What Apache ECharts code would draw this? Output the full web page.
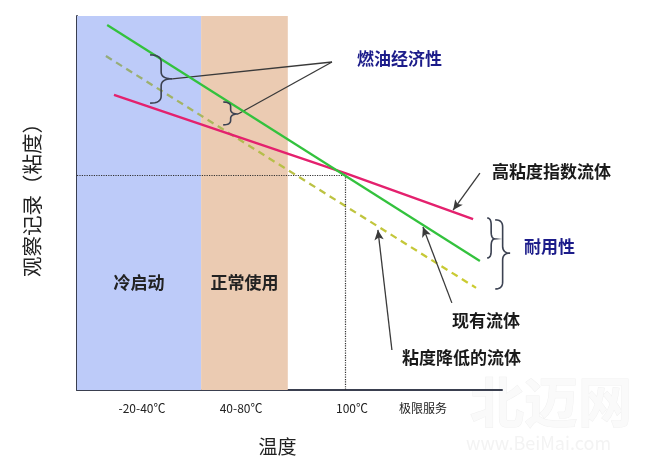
<!DOCTYPE html>
<html>
<head>
<meta charset="utf-8">
<script src="https://cdn.jsdelivr.net/npm/echarts@6/dist/echarts.min.js"></script>
<style>
html,body{margin:0;padding:0;background:#fff;}
#chart{width:655px;height:465px;}
</style>
</head>
<body>
<div id="chart"></div>
<script>
// ---- data (abstract units: x 0-100 temperature span, y 0-100 viscosity) ----
const xTickValues = [15.3, 38.6, 64.7, 81.4];
const xTickLabels = ['-20-40℃', '40-80℃', '100℃', '极限服务'];
const bandNames = ['冷启动', '正常使用'];
const bandRanges = [[0, 29.2], [29.2, 49.6]];
const currentFluid = [[7.1, 97.6], [94.8, 34.5]];            // 现有流体
const highVIFluid = [[8.7, 78.9], [63.1, 58.0], [93.2, 45.7]]; // 高粘度指数流体
const lowViscFluid = [[6.8, 89.3], [93.9, 27.3]];            // 粘度降低的流体
const crossPoint = [63.1, 57.5];

// annotation anchors (data units)
const braceDefs = [
  { top: [17.2, 89.6], bot: [17.2, 76.7], tip: [22.4, 83.2] },
  { top: [34.4, 77.0], bot: [34.4, 70.9], tip: [37.9, 73.8] },
  { top: [96.5, 46.0], bot: [96.5, 35.3], tip: [98.4, 40.4] },
  { top: [98.4, 45.5], bot: [98.4, 27.0], tip: [101.9, 36.6] }
];
const calloutJoin = [60.0, 87.7];
const arrowDefs = [
  { from: [94.8, 58.0], to: [88.5, 48.1] },
  { from: [88.2, 23.3], to: [81.4, 43.6] },
  { from: [74.1, 10.7], to: [70.8, 42.8] }
];

const FONT = '"Noto Sans CJK SC", "Noto Sans", sans-serif';
const chart = echarts.init(document.getElementById('chart'));

const bandColors = ['#bdcbf9', '#ebcbb2'];

chart.setOption({
  backgroundColor: '#ffffff',
  animation: false,
  grid: { left: 77, right: 153, top: 16, bottom: 75 },
  xAxis: {
    type: 'value', min: 0, max: 100,
    axisLine: { show: true, lineStyle: { color: '#3a3f4f', width: 2 } },
    axisTick: { show: false },
    splitLine: { show: false },
    axisLabel: {
      customValues: xTickValues,
      formatter: function (v) {
        const i = xTickValues.indexOf(v);
        return i >= 0 ? xTickLabels[i] : '';
      },
      color: '#222', fontSize: 12, margin: 12, fontFamily: FONT
    },
    name: '温度', nameLocation: 'middle', nameGap: 47,
    nameTextStyle: { fontSize: 19, color: '#222', fontFamily: FONT, padding: [0, 24, 0, 0] }
  },
  yAxis: {
    type: 'value', min: 0, max: 100,
    axisLine: { show: true, lineStyle: { color: '#3a3f4f', width: 2 } },
    axisTick: { show: false },
    axisLabel: { show: false },
    splitLine: { show: false },
    name: '观察记录（粘度）', nameLocation: 'middle', nameRotate: 90, nameGap: 35,
    nameTextStyle: { fontSize: 20.5, color: '#222', fontFamily: FONT, padding: [0, 0, 0, 16] }
  },
  series: [
    {
      type: 'line', name: 'bands', data: [], silent: true,
      markArea: {
        silent: true,
        data: bandRanges.map((r, i) => [
          { xAxis: r[0], yAxis: 0, itemStyle: { color: bandColors[i], opacity: 1 },
            label: { show: true, position: ['50%', '71.4%'], formatter: bandNames[i],
              align: 'center', verticalAlign: 'middle',
              fontSize: 17, fontWeight: 'bold', color: '#222', fontFamily: FONT } },
          { xAxis: r[1], yAxis: 100 }
        ])
      },
      markLine: {
        silent: true, symbol: ['none', 'none'],
        lineStyle: { color: '#333', type: 'dotted', width: 1.2 },
        label: { show: false },
        data: [
          [{ coord: [0, crossPoint[1]] }, { coord: crossPoint }],
          [{ coord: crossPoint }, { coord: [crossPoint[0], 0] }]
        ]
      }
    },
    {
      type: 'line', name: '粘度降低的流体', data: lowViscFluid, showSymbol: false, z: 3,
      lineStyle: {
        width: 2.3, type: [7, 5],
        color: { type: 'linear', x: 0, y: 0, x2: 1, y2: 0, colorStops: [
          { offset: 0, color: '#93ab7c' }, { offset: 0.45, color: '#b7bf48' }, { offset: 1, color: '#cccc30' }] }
      }
    },
    {
      type: 'line', name: '高粘度指数流体', data: highVIFluid, showSymbol: false, z: 4,
      lineStyle: { width: 2.5, color: '#e4216e' }
    },
    {
      type: 'line', name: '现有流体', data: currentFluid, showSymbol: false, z: 5,
      lineStyle: { width: 2.2, color: '#33c23d' }
    },
    {
      type: 'line', name: 'arrows', data: [], silent: true,
      markLine: {
        silent: true, symbol: ['none', 'arrow'], symbolSize: [7, 10],
        lineStyle: { color: '#3a3a3a', type: 'solid', width: 1.3 },
        label: { show: false },
        data: arrowDefs.map(a => [{ coord: a.from }, { coord: a.to }])
          .concat(braceDefs.slice(0, 2).map(b => [{ coord: b.tip, symbol: 'none' }, { coord: calloutJoin, symbol: 'none' }]))
      }
    }
  ]
});

// braces (sampled curly bracket) and annotation text
const px = p => chart.convertToPixel({ gridIndex: 0 }, p);
function quad(p0, p1, p2, n, out) {
  for (let i = 1; i <= n; i++) {
    const t = i / n, a = (1 - t) * (1 - t), b = 2 * (1 - t) * t, c = t * t;
    out.push([a * p0[0] + b * p1[0] + c * p2[0], a * p0[1] + b * p1[1] + c * p2[1]]);
  }
}
function bracePoints(b) {
  const t = px(b.top), bt = px(b.bot), tp = px(b.tip);
  const xl = t[0], xt = tp[0], xm = (xl + xt) / 2;
  const yt = t[1], yb = bt[1], ym = tp[1];
  const r = Math.min(7, (yb - yt) / 5);
  const pts = [[xl, yt]];
  quad([xl, yt], [xm, yt], [xm, yt + r], 8, pts);
  pts.push([xm, ym - r]);
  quad([xm, ym - r], [xm, ym], [xt, ym], 8, pts);
  quad([xt, ym], [xm, ym], [xm, ym + r], 8, pts);
  pts.push([xm, yb - r]);
  quad([xm, yb - r], [xm, yb], [xl, yb], 8, pts);
  return pts;
}
const graphics = braceDefs.map(b => ({
  type: 'polyline', silent: true, z: 10,
  shape: { points: bracePoints(b) },
  style: { fill: null, stroke: '#3c4252', lineWidth: 1.6 }
}));
const txt = (text, x, y, color) => ({
  type: 'text', silent: true, z: 10, x: x, y: y,
  style: { text: text, fill: color, font: 'bold 17px ' + FONT, textAlign: 'left', textVerticalAlign: 'middle' }
});
graphics.push(
  txt('燃油经济性', 357, 59, '#1c1c8a'),
  txt('高粘度指数流体', 492, 172, '#1a1a1a'),
  txt('耐用性', 524, 247, '#1c1c8a'),
  txt('现有流体', 452, 321, '#1a1a1a'),
  txt('粘度降低的流体', 402, 358, '#1a1a1a'),
  { type: 'text', silent: true, z: 0, x: 470, y: 402,
    style: { text: '北迈网', fill: '#fafafa', stroke: '#f0f0f0', lineWidth: 1, font: 'bold 54px ' + FONT, textVerticalAlign: 'middle' } },
  { type: 'text', silent: true, z: 0, x: 466, y: 443,
    style: { text: 'www.BeiMai.com', fill: '#f3f3f3', font: '18px ' + FONT, textVerticalAlign: 'middle' } }
);
chart.setOption({ graphic: graphics });
</script>
</body>
</html>
